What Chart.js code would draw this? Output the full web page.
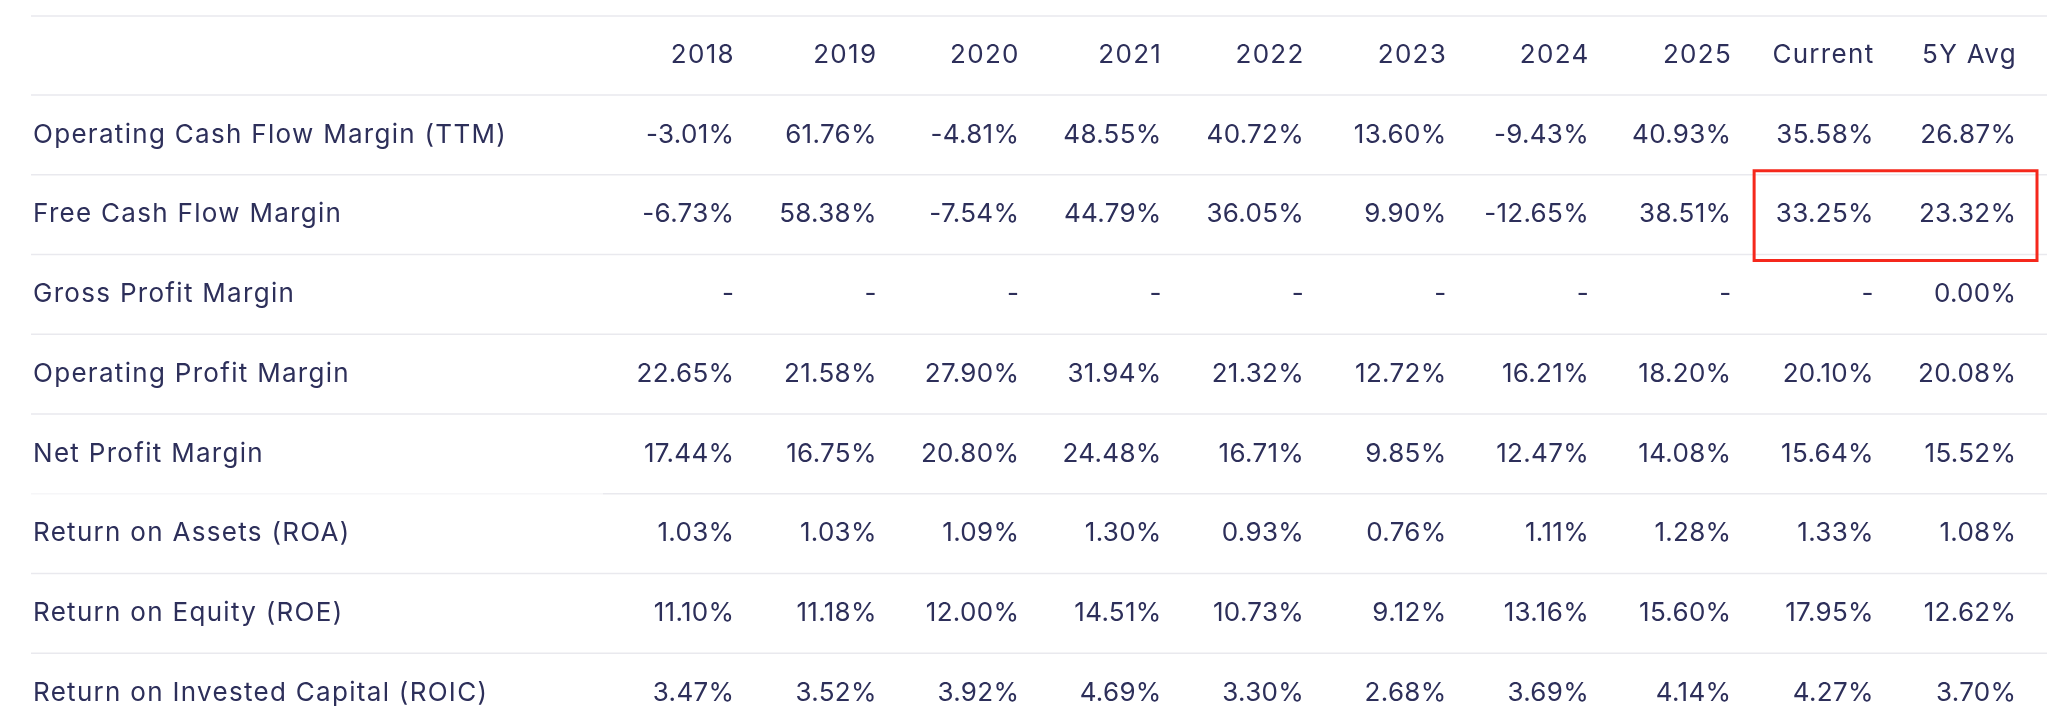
<!DOCTYPE html>
<html>
<head>
<meta charset="utf-8">
<script src="https://cdn.jsdelivr.net/npm/chart.js@4.4.1/dist/chart.umd.min.js"></script>
<style>
  html, body { margin: 0; padding: 0; background: #fff; overflow: hidden; }
  #wrap { width: 2047px; height: 728px; overflow: hidden; }
</style>
</head>
<body>
<div id="wrap"><canvas id="ratios" width="2047" height="733"></canvas></div>
<script>
// Table data
const columns = ["2018", "2019", "2020", "2021", "2022", "2023", "2024", "2025", "Current", "5Y Avg"];
const metrics = [
  "Operating Cash Flow Margin (TTM)",
  "Free Cash Flow Margin",
  "Gross Profit Margin",
  "Operating Profit Margin",
  "Net Profit Margin",
  "Return on Assets (ROA)",
  "Return on Equity (ROE)",
  "Return on Invested Capital (ROIC)",
];
const operatingCashFlowMargin = [-3.01, 61.76, -4.81, 48.55, 40.72, 13.6, -9.43, 40.93, 35.58, 26.87];
const freeCashFlowMargin = [-6.73, 58.38, -7.54, 44.79, 36.05, 9.9, -12.65, 38.51, 33.25, 23.32];
const grossProfitMargin = [null, null, null, null, null, null, null, null, null, 0.0];
const operatingProfitMargin = [22.65, 21.58, 27.9, 31.94, 21.32, 12.72, 16.21, 18.2, 20.1, 20.08];
const netProfitMargin = [17.44, 16.75, 20.8, 24.48, 16.71, 9.85, 12.47, 14.08, 15.64, 15.52];
const returnOnAssets = [1.03, 1.03, 1.09, 1.3, 0.93, 0.76, 1.11, 1.28, 1.33, 1.08];
const returnOnEquity = [11.1, 11.18, 12.0, 14.51, 10.73, 9.12, 13.16, 15.6, 17.95, 12.62];
const returnOnInvestedCapital = [3.47, 3.52, 3.92, 4.69, 3.3, 2.68, 3.69, 4.14, 4.27, 3.7];

const rows = [
  operatingCashFlowMargin,
  freeCashFlowMargin,
  grossProfitMargin,
  operatingProfitMargin,
  netProfitMargin,
  returnOnAssets,
  returnOnEquity,
  returnOnInvestedCapital,
];

// highlighted cells: Free Cash Flow Margin, Current + 5Y Avg
const highlightRow = "Free Cash Flow Margin";
const highlightCols = ["Current", "5Y Avg"];

const TEXT = "#2d2f5a";
const LINE = "#e9e9ee";
const FONT = { family: "Inter", size: 26, weight: "400" };

function fmt(v) {
  return v === null ? "-" : v.toFixed(2) + "%";
}

var datasets = rows.map(function (vals, r) {
  return {
    label: metrics[r],
    data: vals.map(function (v, c) {
      return { x: columns[c], y: metrics[r], v: v };
    }),
    pointRadius: 0,
    pointHoverRadius: 0,
    showLine: false,
  };
});

// grid lines + cell text
const tablePlugin = {
  id: "tablePlugin",
  beforeDraw(chart) {
    // row labels (y axis) are drawn before the datasets
    chart.ctx.letterSpacing = "1.3px";
  },
  beforeDatasetsDraw(chart) {
    const ctx = chart.ctx;
    const x = chart.scales.x;
    const y = chart.scales.y;
    const bh = Math.abs(y.getPixelForValue(1) - y.getPixelForValue(0));
    ctx.save();
    ctx.lineWidth = 1.5;
    var lines = [x.top, chart.chartArea.top];
    for (var i = 0; i < metrics.length - 1; i++) {
      lines.push(y.getPixelForValue(i) + bh / 2);
    }
    lines.forEach(function (ly, k) {
      // the line under Net Profit Margin is faint on the label side
      var split = k === 6 ? 603 : 31;
      if (split > 31) {
        ctx.strokeStyle = "#f6f6f8";
        ctx.beginPath();
        ctx.moveTo(31, ly);
        ctx.lineTo(split, ly);
        ctx.stroke();
      }
      ctx.strokeStyle = LINE;
      ctx.beginPath();
      ctx.moveTo(split, ly);
      ctx.lineTo(chart.width, ly);
      ctx.stroke();
    });
    ctx.restore();
  },
  afterDatasetsDraw(chart) {
    const ctx = chart.ctx;
    const x = chart.scales.x;
    const y = chart.scales.y;
    const bw = Math.abs(x.getPixelForValue(1) - x.getPixelForValue(0));
    const bh = Math.abs(y.getPixelForValue(1) - y.getPixelForValue(0));
    ctx.save();
    ctx.letterSpacing = "0.3px";
    ctx.font = FONT.weight + " " + FONT.size + "px " + FONT.family;
    ctx.fillStyle = TEXT;
    ctx.textAlign = "right";
    ctx.textBaseline = "middle";
    chart.data.datasets.forEach(function (ds, d) {
      chart.getDatasetMeta(d).data.forEach(function (el, i) {
        ctx.fillText(fmt(ds.data[i].v), el.x + bw / 2 - 19.7, el.y);
      });
    });

    // red box
    const c0 = columns.indexOf(highlightCols[0]);
    const c1 = columns.indexOf(highlightCols[1]);
    const r = metrics.indexOf(highlightRow);
    const left = x.getPixelForValue(c0) - bw / 2 + 3;
    const right = x.getPixelForValue(c1) + bw / 2 + 1;
    const top = y.getPixelForValue(r) - bh / 2 - 4;
    const bottom = y.getPixelForValue(r) + bh / 2 + 6;
    ctx.lineWidth = 3;
    ctx.strokeStyle = "#f5281c";
    ctx.strokeRect(left, top, right - left, bottom - top);
    ctx.restore();
    // column headers (x axis, z: 1) are drawn after this hook
    ctx.letterSpacing = "0.9px";
  },
};

var ctx = document.getElementById("ratios").getContext("2d");
var ratioChart = new Chart(ctx, {
  type: "scatter",
  data: { datasets: datasets },
  plugins: [tablePlugin],
  options: {
    responsive: false,
    animation: false,
    events: [],
    layout: { padding: { left: 33, right: 11, top: 16, bottom: 0 } },
    plugins: { legend: { display: false }, tooltip: { enabled: false } },
    scales: {
      x: {
        type: "category",
        labels: columns,
        position: "top",
        offset: true,
        z: 1,
        grid: { display: false, drawTicks: false },
        border: { display: false },
        ticks: {
          autoSkip: false,
          maxRotation: 0,
          align: "end",
          labelOffset: 52.1,
          padding: 24,
          color: TEXT,
          font: FONT,
        },
        afterFit: function (scale) {
          scale.height = 79;
        },
      },
      y: {
        type: "category",
        labels: metrics,
        offset: true,
        grid: { display: false, drawTicks: false },
        border: { display: false },
        ticks: {
          autoSkip: false,
          crossAlign: "far",
          padding: 0,
          color: TEXT,
          font: FONT,
        },
        afterFit: function (scale) {
          scale.width = 578.6;
          scale.paddingTop = 0;
          scale.paddingBottom = 0;
        },
      },
    },
  },
});
</script>
</body>
</html>
